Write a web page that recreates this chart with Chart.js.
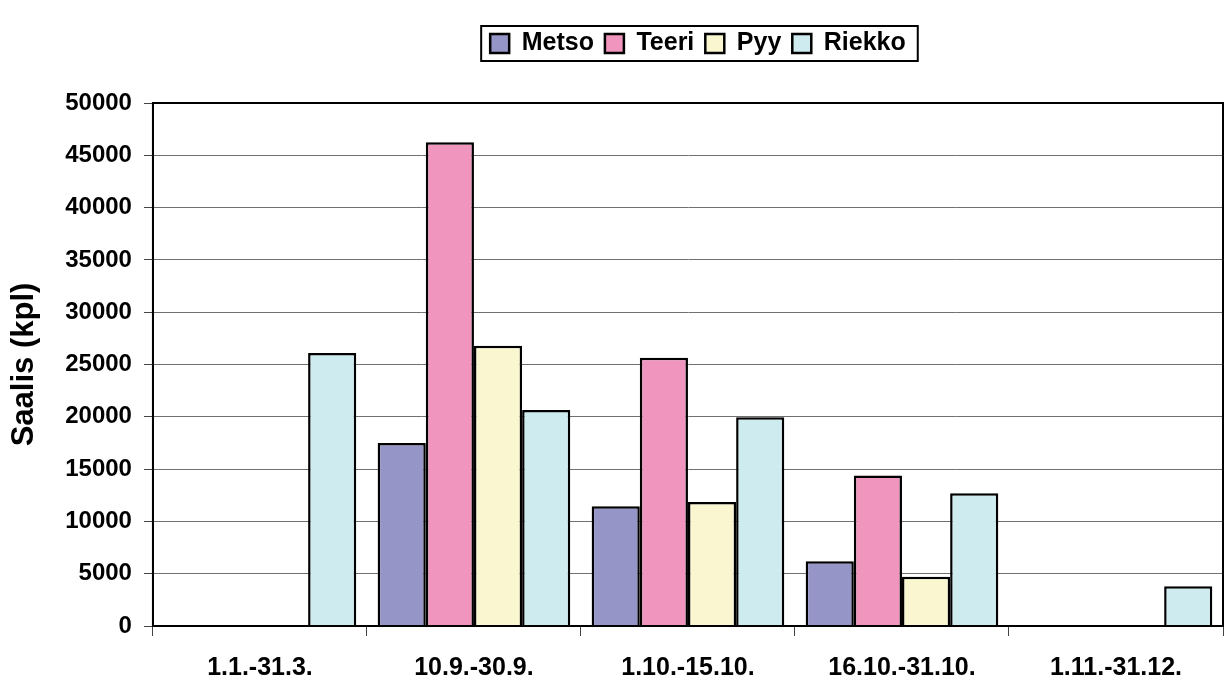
<!DOCTYPE html>
<html>
<head>
<meta charset="utf-8">
<script src="https://cdn.jsdelivr.net/npm/chart.js@4/dist/chart.umd.min.js"></script>
<style>
  html, body { margin: 0; padding: 0; background: #fff; }
  #wrap { width: 1225px; height: 686px; }
</style>
</head>
<body>
<div id="wrap"><canvas id="chart-0"></canvas></div>
<script>
var categories = ["1.1.-31.3.", "10.9.-30.9.", "1.10.-15.10.", "16.10.-31.10.", "1.11.-31.12."];
var metso = [0, 17500, 11450, 6200, 0];
var teeri = [0, 46250, 25650, 14400, 0];
var pyy = [0, 26800, 11850, 4700, 0];
var riekko = [26100, 20650, 19950, 12700, 3800];

Chart.defaults.font.family = "'Liberation Sans', Arial, sans-serif";
Chart.defaults.color = "#000";

var legendShift = 10;

// box around the legend and around the plot area, like the old excel chart
var frames = {
    id: 'frames',
    beforeInit: function (chart) {
        var fit = chart.legend.fit;
        chart.legend.fit = function () {
            fit.bind(chart.legend)();
            this.height += 37;
        };
    },
    afterLayout: function (chart) {
        // legend sits a bit right of centre in the original
        chart.legend.left += legendShift;
        chart.legend.right += legendShift;
    },
    afterDraw: function (chart) {
        var ctx = chart.ctx;
        var a = chart.chartArea;
        ctx.save();
        ctx.strokeStyle = "#000";
        ctx.lineWidth = 2;
        ctx.strokeRect(a.left, a.top, a.right - a.left, a.bottom - a.top);
        var boxes = chart.legend.legendHitBoxes;
        if (boxes && boxes.length) {
            var x0 = boxes[0].left - 9;
            var last = boxes[boxes.length - 1];
            var x1 = last.left + last.width + 12;
            var y0 = boxes[0].top - 5;
            var y1 = boxes[0].top + boxes[0].height + 5;
            ctx.strokeRect(x0, y0, x1 - x0, y1 - y0);
        }
        ctx.restore();
    }
};

var configChart = {
    type: 'bar',
    data: {
        labels: categories,
        datasets: [
            { label: 'Metso', data: metso, backgroundColor: "rgb(149, 149, 200)", borderColor: "#000", borderWidth: 2.5 },
            { label: 'Teeri', data: teeri, backgroundColor: "rgb(240, 150, 190)", borderColor: "#000", borderWidth: 2.5 },
            { label: 'Pyy', data: pyy, backgroundColor: "rgb(250, 247, 208)", borderColor: "#000", borderWidth: 2.5 },
            { label: 'Riekko', data: riekko, backgroundColor: "rgb(206, 235, 240)", borderColor: "#000", borderWidth: 2.5 }
        ]
    },
    options: {
        responsive: true,
        maintainAspectRatio: false,
        animation: false,
        layout: { padding: { top: 20, right: 2, left: 6, bottom: -14 } },
        datasets: { bar: { categoryPercentage: 0.9, barPercentage: 1.0 } },
        plugins: {
            legend: {
                position: 'top',
                fullSize: false,
                labels: {
                    boxWidth: 19,
                    boxHeight: 19,
                    padding: 11,
                    font: { size: 25, weight: 'bold' },
                    color: "#000"
                }
            },
            title: { display: false },
            tooltip: { enabled: false }
        },
        scales: {
            x: {
                grid: {
                    offset: true,
                    drawOnChartArea: false,
                    tickLength: 10,
                    tickColor: "#444",
                    tickWidth: 1
                },
                border: { display: true, color: "#000", width: 2 },
                ticks: {
                    font: { size: 25, weight: 'bold' },
                    color: "#000",
                    padding: 17,
                    maxRotation: 0
                }
            },
            y: {
                min: 0,
                max: 50000,
                ticks: {
                    stepSize: 5000,
                    font: { size: 24, weight: 'bold' },
                    color: "#000",
                    padding: 12,
                    callback: function (v) { return String(v); }
                },
                grid: {
                    color: "#707070",
                    lineWidth: 1,
                    tickLength: 9,
                    tickColor: "#444"
                },
                border: { display: true, color: "#000", width: 2 },
                title: {
                    display: true,
                    text: 'Saalis (kpl)',
                    font: { size: 31, weight: 'bold' },
                    color: "#000",
                    padding: { top: 0, bottom: 10 }
                }
            }
        }
    },
    plugins: [frames]
};

window.onload = function () {
    var ctx = document.getElementById("chart-0").getContext("2d");
    var myChart = new Chart(ctx, configChart);
};
</script>
</body>
</html>
